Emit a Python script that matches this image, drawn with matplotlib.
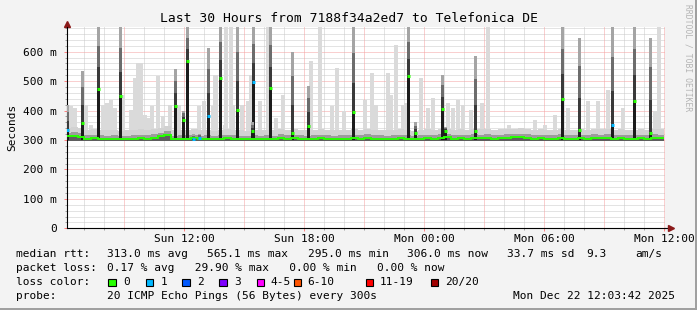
import numpy as np
import matplotlib
matplotlib.use("Agg")
import matplotlib.pyplot as plt
from matplotlib.patches import Rectangle

W, H = 697, 310
MONO = "DejaVu Sans Mono"

# ---- data (hours since Sun 00:00, values in ms) ----
t_start = 6.0
t_step = 1 / 3  # 20 min samples
median_ms = [312, 314, 311, 305, 306, 304, 303, 305, 302, 303, 304, 306, 305, 308, 312,
             318, 303, 305, 304, 306, 303, 305, 302, 304, 306, 305, 303, 302, 304, 303,
             305, 303, 308, 305, 306, 304, 303, 305, 306, 304, 303, 305, 304, 306, 305,
             307, 305, 304, 303, 305, 306, 304, 302, 305, 306, 305, 307, 309, 305, 306,
             305, 307, 306, 308, 305, 306, 307, 309, 310, 307, 305, 306, 304, 305, 307,
             305, 304, 306, 305, 307, 306, 308, 305, 306, 305, 304, 306, 305, 307, 306]

# light smoke bars: time, top of smoke
light_h = [6.19, 6.35, 6.55, 7.09, 7.35, 7.92, 8.13, 8.35, 8.55, 8.94, 9.35, 9.52, 9.69,
           9.85, 10.02, 10.19, 10.39, 10.69, 10.94, 11.30, 11.75, 12.75, 12.97, 13.45,
           13.52, 13.59, 14.02, 14.09, 14.34, 14.42, 14.89, 15.19, 15.35, 15.80, 16.19,
           16.59, 16.92, 18.34, 18.80, 19.39, 19.64, 19.97, 21.05, 21.39, 21.59, 22.19,
           22.35, 22.59, 22.92, 23.09, 23.85, 24.19, 24.42, 25.19, 25.42, 25.69, 25.92,
           26.35, 26.89, 27.19, 28.25, 28.47, 29.55, 30.02, 30.52, 31.19, 32.19, 32.69,
           33.19, 33.92, 35.55, 35.75]
light_top = [419, 414, 408, 419, 351, 419, 425, 436, 408, 453, 402, 510, 561,
             561, 385, 374, 414, 516, 380, 419, 419, 414, 431, 414,
             521, 521, 351, 683, 683, 419, 419, 431, 521, 431, 683,
             374, 453, 567, 683, 414, 544, 397, 436, 527, 419, 527,
             453, 623, 419, 425, 510, 408, 442, 425, 408, 436, 419,
             402, 425, 683, 351, 330, 368, 351, 385, 408, 431, 431,
             470, 408, 397, 683]

# spikes: time, median, top of smoke, loss class
spike_h = [6.17, 6.92, 7.72, 8.80, 11.55, 11.97, 12.17, 12.45, 12.75, 13.22, 13.80, 14.67,
           15.42, 15.47, 16.30, 17.42, 18.22, 20.47, 23.22, 23.55, 24.92, 25.08, 26.55,
           30.92, 31.75, 33.42, 34.50, 35.30]
spike_med = [334, 358, 474, 448, 414, 368, 567, 304, 306, 380, 512, 402,
             331, 497, 478, 323, 349, 394, 516, 323, 406, 331, 330,
             440, 335, 351, 433, 323]
spike_top = [420, 533, 683, 683, 540, 400, 683, 320, 320, 612, 683, 683,
             360, 683, 683, 600, 482, 683, 683, 360, 521, 345, 584,
             683, 646, 683, 683, 646]
spike_loss = [1, 0, 0, 0, 0, 0, 0, 1, 1, 1, 0, 0,
              0, 1, 0, 0, 0, 0, 0, 0, 0, 0, 0,
              0, 0, 1, 0, 0]

loss_labels = ["0", "1", "2", "3", "4-5", "6-10", "11-19", "20/20"]
loss_colors = ["#26ff00", "#00b8ff", "#0059ff", "#7e00ff", "#ff00ff", "#ff5500",
               "#ff0000", "#a10000"]

tick_hours = [12, 18, 24, 30, 36]
tick_labels = ["Sun 12:00", "Sun 18:00", "Mon 00:00", "Mon 06:00", "Mon 12:00"]

median_rtt = ["313.0 ms avg", "565.1 ms max", "295.0 ms min", "306.0 ms now",
              "33.7 ms sd", "9.3", "am/s"]
packet_loss = "0.17 % avg   29.90 % max   0.00 % min   0.00 % now"


def fx(px):
    return px / W


def fy(py):
    return 1 - py / H


fig = plt.figure(figsize=(W / 100, H / 100), dpi=100)
fig.patch.set_facecolor("#f3f3f3")

x0, x1, ytop, ybot = 66.7, 665.5, 27.3, 228.3
ax = fig.add_axes([fx(x0), fy(ybot), fx(x1 - x0), (ybot - ytop) / H])
ax.set_facecolor("white")
ax.set_xlim(6.12, 36.06)
ax.set_ylim(0, 683)

# grid
dot = (0, (1, 1))
for h in np.arange(7, 37, 1):
    if h % 3:
        ax.axvline(h, color="#c8c8c8", lw=0.72, ls=dot, zorder=0)
for v in np.arange(20, 683, 20):
    if v % 100:
        ax.axhline(v, color="#c8c8c8", lw=0.72, ls=dot, zorder=0)
for h in np.arange(9, 37, 3):
    ax.axvline(h, color="#f4a0a0", lw=0.72, ls=dot, zorder=0.5)
for v in np.arange(100, 683, 100):
    ax.axhline(v, color="#f4a0a0", lw=0.72, ls=dot, zorder=0.5)

# light smoke
ax.bar(light_h, np.array(light_top) - 298, bottom=298, width=0.2,
       color="#dadada", lw=0, zorder=1)

# base smoke band around the median
med = np.array(median_ms, dtype=float)
edges = t_start + t_step * np.arange(len(med) + 1)
ax.stairs(med + 30, edges, baseline=med + 12, fill=True, color="#d2d2d2", zorder=2)
ax.stairs(med + 12, edges, baseline=med, fill=True, color="#9c9c9c", zorder=2)
ax.stairs(med, edges, baseline=297, fill=True, color="#5e5e5e", zorder=2)

# spikes
sh = np.array(spike_h)
sm = np.array(spike_med, dtype=float)
st = np.array(spike_top, dtype=float)
span = np.clip(st - sm, 0, None)
bw = 0.14
ax.bar(sh, sm - 300, bottom=300, width=bw, color="#1c1c1c", lw=0, zorder=3)
ax.bar(sh, span * 0.35, bottom=sm, width=bw, color="#3a3a3a", lw=0, zorder=3)
ax.bar(sh, span * 0.35, bottom=sm + span * 0.35, width=bw, color="#6c6c6c", lw=0, zorder=3)
ax.bar(sh, span * 0.30, bottom=sm + span * 0.70, width=bw, color="#a4a4a4", lw=0, zorder=3)

# median line
ax.stairs(med, edges, baseline=None, color=loss_colors[0], lw=1.4, zorder=4)
for h, m, l in zip(spike_h, spike_med, spike_loss):
    ax.plot([h - 0.07, h + 0.07], [m, m], color=loss_colors[l], lw=2.2,
            solid_capstyle="butt", zorder=5)

# axes
for s in ["top", "right"]:
    ax.spines[s].set_visible(False)
for s in ["left", "bottom"]:
    ax.spines[s].set_linewidth(0.8)
ax.set_yticks(np.arange(0, 700, 100))
ax.set_yticklabels(["0"] + [f"{v} m" for v in range(100, 700, 100)])
ax.set_yticks(np.arange(0, 683, 20), minor=True)
ax.set_xticks(tick_hours)
ax.set_xticklabels(tick_labels)
ax.set_xticks(np.arange(7, 37, 1), minor=True)
ax.tick_params(axis="both", which="both", labelsize=8, labelfontfamily=MONO)
ax.tick_params(axis="y", which="major", length=2.5, width=0.7, color="#ff8080", pad=4.5)
ax.tick_params(axis="y", which="minor", length=1.5, width=0.7, color="#a0a0a0")
ax.tick_params(axis="x", which="major", length=2.5, width=0.7, color="#ff8080", pad=1.5)
ax.tick_params(axis="x", which="minor", length=1.5, width=0.7, color="#a0a0a0")
ax.plot([0, 0], [1, 1.012], transform=ax.transAxes, color="black", lw=0.8, clip_on=False)
ax.plot([1, 1.006], [0, 0], transform=ax.transAxes, color="black", lw=0.8, clip_on=False)
ax.plot(0, 1.016, marker="^", ms=4.5, color="#8b1a1a", transform=ax.transAxes, clip_on=False)
ax.plot(1.009, 0, marker=">", ms=4.5, color="#8b1a1a", transform=ax.transAxes, clip_on=False)

ax.set_ylabel("Seconds", fontsize=8, family=MONO, labelpad=4)

# title and watermark
fig.text(0.5, fy(19), "Last 30 Hours from 7188f34a2ed7 to Telefonica DE",
         ha="center", va="center", fontsize=9.4, family=MONO)
fig.text(fx(688), fy(4), "RRDTOOL / TOBI OETIKER", rotation=270, ha="center", va="top",
         fontsize=5.8, family=MONO, color="#b4b4b4")

# legend rows
rows_y = [254, 268.3, 282.3, 295.7]
for label, y in zip(["median rtt:", "packet loss:", "loss color:", "probe:"], rows_y):
    fig.text(fx(16), fy(y), label, ha="left", va="center", fontsize=8, family=MONO)

for txt, px in zip(median_rtt, [107.3, 207.3, 308.3, 407.3, 506.7, 586.7, 635]):
    fig.text(fx(px), fy(rows_y[0]), txt, ha="left", va="center", fontsize=8, family=MONO)
fig.text(fx(107.3), fy(rows_y[1]), packet_loss, ha="left", va="center",
         fontsize=8, family=MONO)

box_x = [108.3, 145.7, 182.3, 219.3, 256.7, 294, 365.7, 430.7]
lab_x = [123.3, 160.7, 196.7, 234, 270.7, 307.3, 380, 445]
for bx, lx, lab, c in zip(box_x, lab_x, loss_labels, loss_colors):
    fig.add_artist(Rectangle((fx(bx), fy(rows_y[2] + 3.8)), fx(7.4), 7.4 / H,
                             transform=fig.transFigure, facecolor=c,
                             edgecolor="black", lw=0.8))
    fig.text(fx(lx), fy(rows_y[2]), lab, ha="left", va="center", fontsize=8, family=MONO)

fig.text(fx(107.3), fy(rows_y[3]), "20 ICMP Echo Pings (56 Bytes) every 300s",
         ha="left", va="center", fontsize=8, family=MONO)
fig.text(fx(512.7), fy(rows_y[3]), "Mon Dec 22 12:03:42 2025",
         ha="left", va="center", fontsize=8, family=MONO)

# frame shading
fig.add_artist(Rectangle((0, 0), 1, 2.5 / H, transform=fig.transFigure,
                         facecolor="#a0a0a0", lw=0))
fig.add_artist(Rectangle((1 - 2.5 / W, 0), 2.5 / W, 1, transform=fig.transFigure,
                         facecolor="#a0a0a0", lw=0))

fig.savefig("out.png", dpi=100, facecolor=fig.get_facecolor())
